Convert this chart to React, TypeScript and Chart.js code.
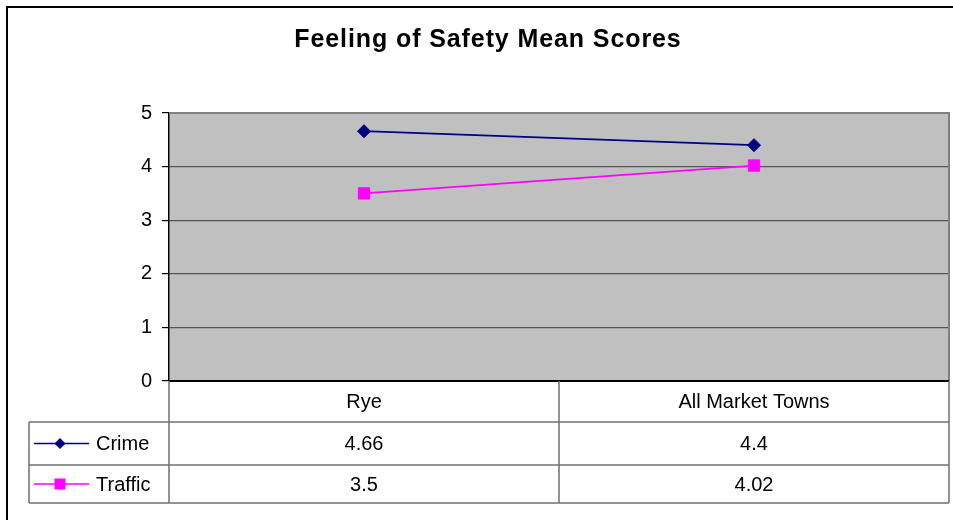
import React, { useEffect, useRef } from "react";
import { Chart, registerables } from "chart.js";

Chart.register(...registerables);

const TITLE = "Feeling of Safety Mean Scores";
const categories = ["Rye", "All Market Towns"];
const crimeValues = [4.66, 4.4];
const trafficValues = [3.5, 4.02];
const seriesNames = ["Crime", "Traffic"];
const yTicks = [0, 1, 2, 3, 4, 5];

const FONT = "'Liberation Sans', Arial, sans-serif";
const CRIME_COLOR = "#000080";
const TRAFFIC_COLOR = "#FF00FF";

const tablePlugin = {
  id: "excelTable",
  beforeDraw(chart: any) {
    const { ctx, chartArea } = chart;
    ctx.save();
    ctx.fillStyle = "#ffffff";
    ctx.fillRect(0, 0, chart.width, chart.height);
    ctx.fillStyle = "#C0C0C0";
    ctx.fillRect(chartArea.left, chartArea.top, chartArea.right - chartArea.left, chartArea.bottom - chartArea.top);
    ctx.restore();
  },
  beforeDatasetsDraw(chart: any) {
    const { ctx, chartArea } = chart;
    ctx.save();
    ctx.strokeStyle = "#808080";
    ctx.lineWidth = 2;
    ctx.beginPath();
    ctx.moveTo(chartArea.left, chartArea.top);
    ctx.lineTo(chartArea.right, chartArea.top);
    ctx.lineTo(chartArea.right, chartArea.bottom);
    ctx.stroke();
    ctx.strokeStyle = "#000000";
    ctx.lineWidth = 2;
    ctx.beginPath();
    ctx.moveTo(chartArea.left, chartArea.bottom);
    ctx.lineTo(chartArea.right, chartArea.bottom);
    ctx.stroke();
    ctx.restore();
  },
  afterDraw(chart: any) {
    const { ctx, chartArea } = chart;
    const xScale = chart.scales.x;
    const left = chartArea.left;
    const right = chartArea.right;
    const top = chartArea.bottom;
    const rowBounds = [top, 422, 465, 503];
    const tableLeft = 29;
    const colEdges: number[] = [left];
    for (let i = 0; i < categories.length; i++) {
      const c = xScale.getPixelForValue(i);
      const half = (right - left) / categories.length / 2;
      colEdges.push(c + half);
    }
    ctx.save();
    ctx.strokeStyle = "#707070";
    ctx.lineWidth = 1.5;
    ctx.beginPath();
    for (let r = 1; r < rowBounds.length; r++) {
      ctx.moveTo(tableLeft, rowBounds[r]);
      ctx.lineTo(right, rowBounds[r]);
    }
    ctx.moveTo(tableLeft, rowBounds[1]);
    ctx.lineTo(tableLeft, rowBounds[3]);
    for (const x of colEdges) {
      ctx.moveTo(x, rowBounds[0]);
      ctx.lineTo(x, rowBounds[3]);
    }
    ctx.stroke();

    ctx.fillStyle = "#000";
    ctx.font = `20px ${FONT}`;
    ctx.textAlign = "center";
    ctx.textBaseline = "middle";
    categories.forEach((cat, i) => {
      const cx = xScale.getPixelForValue(i);
      ctx.fillText(cat, cx, (rowBounds[0] + rowBounds[1]) / 2 + 1);
    });
    const seriesData = [crimeValues, trafficValues];
    seriesData.forEach((vals, s) => {
      const cy = (rowBounds[s + 1] + rowBounds[s + 2]) / 2 + 1;
      vals.forEach((v, i) => {
        const cx = xScale.getPixelForValue(i);
        ctx.fillText(String(v), cx, cy);
      });
    });

    ctx.textAlign = "left";
    seriesNames.forEach((name, s) => {
      const cy = (rowBounds[s + 1] + rowBounds[s + 2]) / 2;
      const color = s === 0 ? CRIME_COLOR : TRAFFIC_COLOR;
      ctx.strokeStyle = color;
      ctx.lineWidth = 1.5;
      ctx.beginPath();
      ctx.moveTo(34, cy);
      ctx.lineTo(89, cy);
      ctx.stroke();
      ctx.fillStyle = color;
      ctx.beginPath();
      if (s === 0) {
        ctx.moveTo(60, cy - 5.5);
        ctx.lineTo(65.5, cy);
        ctx.lineTo(60, cy + 5.5);
        ctx.lineTo(54.5, cy);
        ctx.closePath();
      } else {
        ctx.rect(54.5, cy - 5.5, 11, 11);
      }
      ctx.fill();
      ctx.fillStyle = "#000";
      ctx.fillText(name, 96, cy + 1);
    });

    ctx.font = `bold 25px ${FONT}`;
    ctx.textAlign = "center";
    ctx.textBaseline = "alphabetic";
    try {
      (ctx as any).letterSpacing = "0.9px";
    } catch (e) {}
    ctx.fillText(TITLE, 488, 47);
    try {
      (ctx as any).letterSpacing = "0px";
    } catch (e) {}

    ctx.strokeStyle = "#000";
    ctx.lineWidth = 2;
    ctx.beginPath();
    ctx.moveTo(7, chart.height);
    ctx.lineTo(7, 7);
    ctx.lineTo(chart.width, 7);
    ctx.stroke();
    ctx.restore();
  },
};

export default function App() {
  const canvasRef = useRef<HTMLCanvasElement | null>(null);

  useEffect(() => {
    const canvas = canvasRef.current;
    if (!canvas) return;
    const chart = new Chart(canvas, {
      type: "line",
      data: {
        labels: categories,
        datasets: [
          {
            label: seriesNames[0],
            data: crimeValues,
            borderColor: CRIME_COLOR,
            backgroundColor: CRIME_COLOR,
            borderWidth: 1.8,
            pointStyle: "rectRot",
            pointRadius: 6.5,
            pointBorderWidth: 1,
            pointBorderColor: CRIME_COLOR,
            pointBackgroundColor: CRIME_COLOR,
            tension: 0,
          },
          {
            label: seriesNames[1],
            data: trafficValues,
            borderColor: TRAFFIC_COLOR,
            backgroundColor: TRAFFIC_COLOR,
            borderWidth: 1.8,
            pointStyle: "rect",
            pointRadius: 8,
            pointBorderWidth: 1,
            pointBorderColor: TRAFFIC_COLOR,
            pointBackgroundColor: TRAFFIC_COLOR,
            tension: 0,
          },
        ],
      },
      options: {
        responsive: false,
        animation: false,
        events: [],
        layout: { autoPadding: false, padding: { left: 0, top: 113, right: 4, bottom: 139 } },
        plugins: {
          legend: { display: false },
          title: { display: false },
          tooltip: { enabled: false },
        },
        scales: {
          x: {
            type: "category",
            offset: true,
            display: false,
          },
          y: {
            min: yTicks[0],
            max: yTicks[yTicks.length - 1],
            afterFit: (scale: any) => {
              scale.width = 169;
            },
            afterBuildTicks: (scale: any) => {
              scale.ticks = yTicks.map((v) => ({ value: v }));
            },
            ticks: {
              color: "#000",
              font: { family: FONT, size: 20 },
              padding: 10,
            },
            grid: {
              color: "#555555",
              lineWidth: 1.2,
              tickColor: "#000",
              tickLength: 7,
              drawTicks: true,
            },
            border: { display: true, color: "#000", width: 1.5 },
          },
        },
      },
      plugins: [tablePlugin],
    });
    return () => chart.destroy();
  }, []);

  return (
    <div style={{ position: "absolute", left: 0, top: 0, width: 953, height: 520 }}>
      <canvas ref={canvasRef} width={953} height={520} style={{ display: "block" }} />
    </div>
  );
}
